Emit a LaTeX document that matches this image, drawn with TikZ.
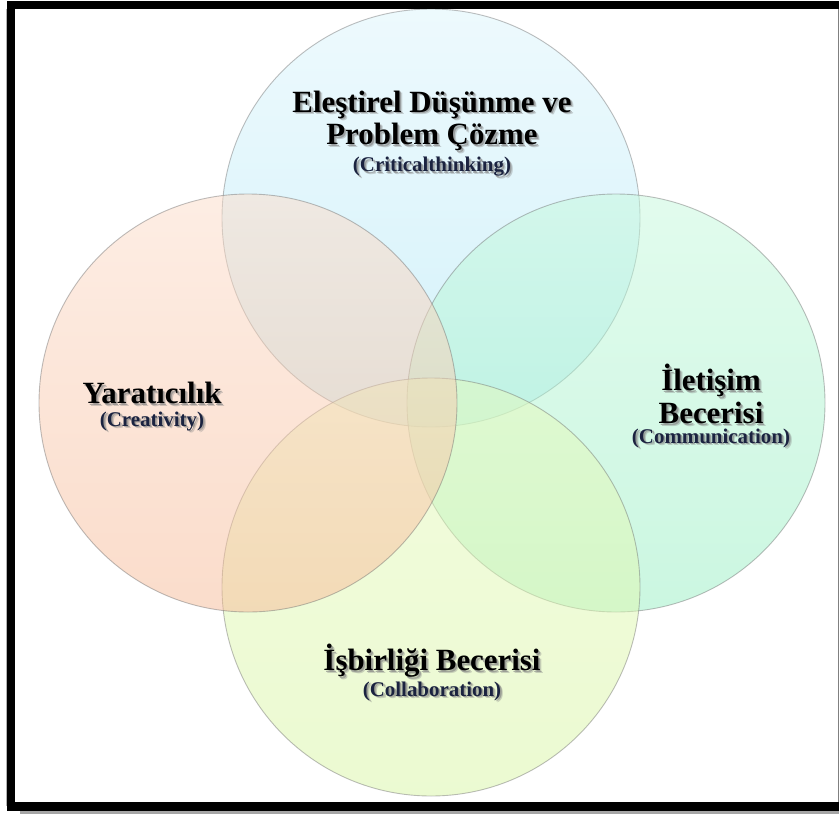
\documentclass[tikz,border=0pt]{standalone}
\usepackage{fontspec}
\setmainfont{Liberation Serif}
\definecolor{blueA}{HTML}{DDF6FD}
\definecolor{blueB}{HTML}{A8E5F6}
\definecolor{peachA}{HTML}{FDDDCA}
\definecolor{peachB}{HTML}{F7BB98}
\definecolor{mintA}{HTML}{C6F9DD}
\definecolor{mintB}{HTML}{98F0C4}
\definecolor{limeA}{HTML}{E7FABD}
\definecolor{limeB}{HTML}{D9F6A5}
\definecolor{subtitle}{HTML}{1B2340}
\definecolor{ringline}{HTML}{6E6E6E}
\newcommand\shadowed[5]{% name, x, y, font, text
  \node[txtshadow,font=#4,text opacity=0.35] (#1-sh2) at (#2+2.8,#3+2.8) {#5};
  \node[txtshadow,font=#4] (#1-sh) at (#2+1.6,#3+1.6) {#5};
  \node[txt,font=#4] (#1) at (#2,#3) {#5};}
\begin{document}
\begin{tikzpicture}[x=1bp,y=-1bp,
  ring/.style={draw=ringline,line width=0.9bp,fill opacity=0.5,draw opacity=0.45},
  txt/.style={align=center,inner sep=0pt},
  txtshadow/.style={align=center,inner sep=0pt,text=black!50,text opacity=0.6},
]
\useasboundingbox (0,0) rectangle (839,814);
\fill[white] (0,0) rectangle (839,814);

% the four overlapping circles, half transparent
\path[ring,top color=blueA,bottom color=blueB] (431,218) circle[radius=209];
\path[ring,top color=mintA,bottom color=mintB] (616,403) circle[radius=209];
\path[ring,top color=limeA,bottom color=limeB] (431,587) circle[radius=209];
\path[ring,top color=peachA,bottom color=peachB] (248,403) circle[radius=209];

% labels
\shadowed{critical}{432}{121}{\fontsize{31}{33}\selectfont\bfseries}{Eleştirel Düşünme ve\\Problem Çözme}
\shadowed{critical-en}{432}{167}{\fontsize{21}{23}\selectfont\bfseries\color{subtitle}}{(Criticalthinking)}
\shadowed{creative}{152}{393}{\fontsize{31}{33}\selectfont\bfseries}{Yaratıcılık}
\shadowed{creative-en}{152}{421}{\fontsize{21}{23}\selectfont\bfseries\color{subtitle}}{(Creativity)}
\shadowed{comm}{711}{394}{\fontsize{31}{33}\selectfont\bfseries}{İletişim\\Becerisi}
\shadowed{comm-en}{711}{438}{\fontsize{21}{23}\selectfont\bfseries\color{subtitle}}{(Communication)}
\shadowed{collab}{432}{661}{\fontsize{31}{33}\selectfont\bfseries}{İşbirliği Becerisi}
\shadowed{collab-en}{432}{691}{\fontsize{21}{23}\selectfont\bfseries\color{subtitle}}{(Collaboration)}

% frame
\fill[black!35] (20,810) rectangle (839,814);
\draw[black!30,line width=1bp] (6.5,9) -- (6.5,806);
\draw[line width=8.5bp] (11,5) rectangle (850,806.5);
\draw[black!50,line width=1.2bp] (838.4,9.5) -- (838.4,802);
\end{tikzpicture}
\end{document}
